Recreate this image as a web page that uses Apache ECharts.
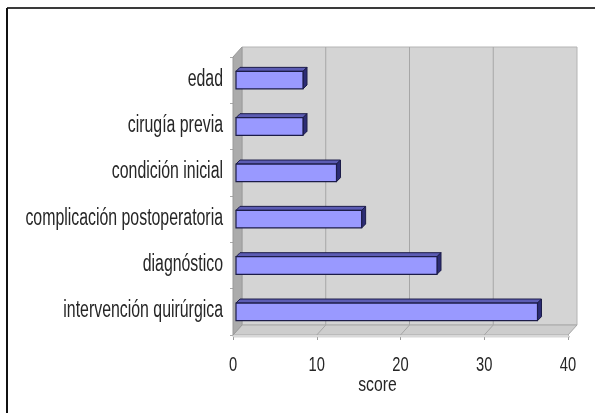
<!DOCTYPE html>
<html>
<head>
<meta charset="utf-8">
<script src="https://cdn.jsdelivr.net/npm/echarts@6/dist/echarts.min.js"></script>
<style>
  html, body { margin: 0; padding: 0; background: #ffffff; }
  #chart { width: 595px; height: 413px; }
</style>
</head>
<body>
<div id="chart"></div>
<script>
// Factors, listed bottom to top on the category axis
const categories = [
  'intervención quirúrgica',
  'diagnóstico',
  'complicación postoperatoria',
  'condición inicial',
  'cirugía previa',
  'edad'
];
const scores = [36, 24, 15, 12, 8, 8];
const xTicks = [0, 10, 20, 30, 40];
const xName = 'score';

const FONT = "'Liberation Sans', Arial, Helvetica, sans-serif";
const TEXT_COLOR = '#262626';

// Oblique depth of the 3D box (pixels)
const DX = 9, DY = -10;

const chart = echarts.init(document.getElementById('chart'), null, { renderer: 'canvas' });

function plotBounds(api) {
  const band = api.size([0, 1])[1];
  return {
    band: band,
    x0: api.coord([xTicks[0], 0])[0],
    x1: api.coord([xTicks[xTicks.length - 1], 0])[0],
    yB: api.coord([0, 0])[1] + band / 2,
    yT: api.coord([0, categories.length - 1])[1] - band / 2
  };
}

function wallsItem(params, api) {
  const b = plotBounds(api);
  const { x0, x1, yB, yT } = b;
  const children = [];
  // back wall
  children.push({ type: 'rect', shape: { x: x0 + DX, y: yT + DY, width: x1 - x0, height: yB - yT },
    style: { fill: '#d4d4d4', stroke: '#b4b4b4', lineWidth: 1 } });
  // floor
  children.push({ type: 'polygon', shape: { points: [[x0, yB], [x0 + DX, yB + DY], [x1 + DX, yB + DY], [x1, yB]] },
    style: { fill: '#cdcdcd', stroke: '#a8a8a8', lineWidth: 1 } });
  // floor front edge thickness
  children.push({ type: 'polygon', shape: { points: [[x0, yB], [x1, yB], [x1 + 2, yB + 2], [x0, yB + 2]] },
    style: { fill: '#e4e4e4', stroke: '#bdbdbd', lineWidth: 0.6 } });
  // grid lines on back wall and floor
  for (let i = 1; i < xTicks.length - 1; i++) {
    const x = api.coord([xTicks[i], 0])[0];
    children.push({ type: 'polyline', shape: { points: [[x + DX, yT + DY], [x + DX, yB + DY], [x, yB]] },
      style: { stroke: '#a6a6a6', lineWidth: 1, fill: null } });
  }
  // left wall
  children.push({ type: 'polygon', shape: { points: [[x0, yT], [x0 + DX, yT + DY], [x0 + DX, yB + DY], [x0, yB]] },
    style: { fill: '#ababab', stroke: '#9a9a9a', lineWidth: 1 } });

  // category labels (condensed type)
  categories.forEach(function (name, i) {
    const p = api.coord([0, i]);
    children.push({ type: 'text', x: x0 - 10, y: p[1] - 1, scaleX: 0.69,
      style: { text: name, x: 0, y: 0, align: 'right', verticalAlign: 'middle',
        font: '23px ' + FONT, fill: TEXT_COLOR } });
  });
  // value tick labels
  xTicks.forEach(function (v) {
    const x = api.coord([v, 0])[0];
    children.push({ type: 'text', x: x, y: yB + 30, scaleX: 0.7,
      style: { text: String(v), x: 0, y: 0, align: 'center', verticalAlign: 'middle',
        font: '21px ' + FONT, fill: TEXT_COLOR } });
  });
  // axis title
  children.push({ type: 'text', x: (x0 + x1) / 2 - 23, y: yB + 50, scaleX: 0.75,
    style: { text: xName, x: 0, y: 0, align: 'center', verticalAlign: 'middle',
      font: '21px ' + FONT, fill: TEXT_COLOR } });
  return { type: 'group', children: children };
}

function barItem(params, api) {
  const cat = api.value(1);
  const val = api.value(0);
  const c = api.coord([val, cat]);
  const base = api.coord([0, cat]);
  const h = api.size([0, 1])[1] * 0.38;
  const off = 3, ddx = 4, ddy = -4;
  const xl = base[0] + off, xr = c[0] + off;
  const yt = c[1] - h / 2, yb = c[1] + h / 2;
  return {
    type: 'group',
    children: [
      { type: 'polygon', shape: { points: [[xl, yt], [xl + ddx, yt + ddy], [xr + ddx, yt + ddy], [xr, yt]] },
        style: { fill: '#5c5cb4', stroke: '#1c1c48', lineWidth: 1 } },
      { type: 'polygon', shape: { points: [[xr, yt], [xr + ddx, yt + ddy], [xr + ddx, yb + ddy], [xr, yb]] },
        style: { fill: '#2c2c74', stroke: '#1c1c48', lineWidth: 1 } },
      { type: 'rect', shape: { x: xl, y: yt, width: xr - xl, height: yb - yt },
        style: { fill: '#9999ff', stroke: '#1c1c48', lineWidth: 1.2 } }
    ]
  };
}

chart.setOption({
  backgroundColor: '#ffffff',
  animation: false,
  grid: { left: 233, right: 27, top: 57, bottom: 78 },
  xAxis: {
    type: 'value', min: 0, max: 40, interval: 10,
    axisLine: { show: false },
    axisTick: { show: true, length: 5, lineStyle: { color: '#9a9a9a' } },
    axisLabel: { show: false },
    splitLine: { show: false }
  },
  yAxis: {
    type: 'category', data: categories,
    axisLine: { show: false },
    axisTick: { show: true, length: 3, lineStyle: { color: '#aaaaaa' } },
    axisLabel: { show: false },
    splitLine: { show: false }
  },
  graphic: [
    { type: 'line', shape: { x1: 7, y1: 8, x2: 595, y2: 8 }, style: { stroke: '#3a3a3a', lineWidth: 2 } },
    { type: 'line', shape: { x1: 7, y1: 8, x2: 7, y2: 413 }, style: { stroke: '#111111', lineWidth: 2 } }
  ],
  series: [
    { type: 'custom', name: 'walls', renderItem: wallsItem, data: [[0, 0]], clip: false, silent: true, z: 1 },
    { type: 'custom', name: 'score', renderItem: barItem,
      data: scores.map((v, i) => [v, i]), encode: { x: 0, y: 1 }, clip: false, z: 2 }
  ]
});
</script>
</body>
</html>
